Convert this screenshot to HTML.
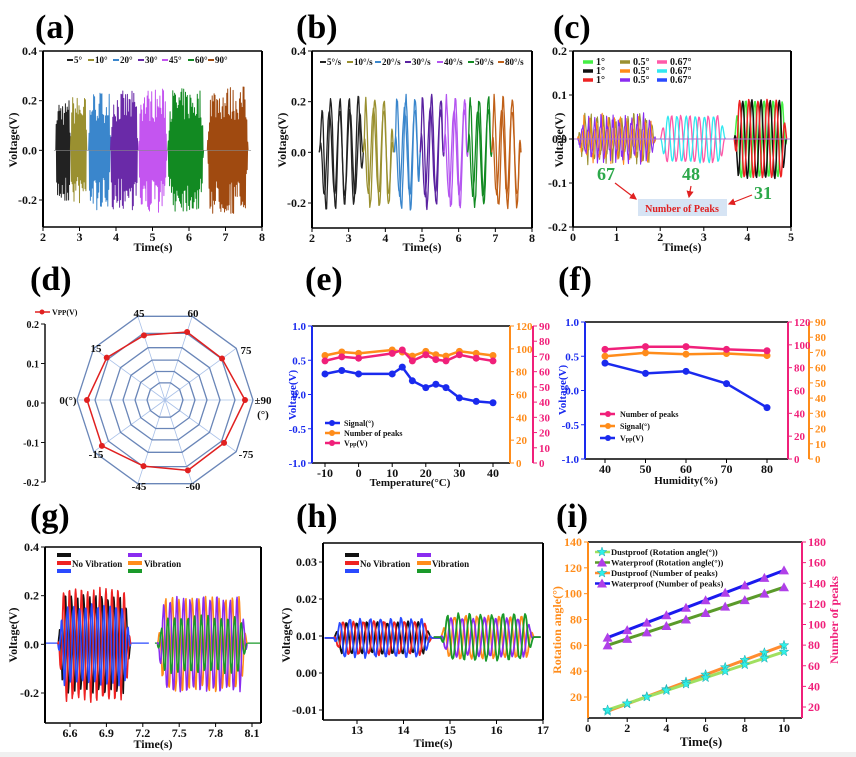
<!DOCTYPE html><html><head><meta charset="utf-8"><style>html,body{margin:0;padding:0;background:#fff}svg{display:block}text{font-family:"Liberation Serif",serif;font-weight:bold}</style></head><body>
<svg id="s" width="856" height="757" viewBox="0 0 856 757" xmlns="http://www.w3.org/2000/svg"></svg>
<script>
const S=document.getElementById('s');let h='';
let seed=7;function R(){seed=(seed*16807)%2147483647;return seed/2147483647;}
function L(a,b,c,d,col,w){h+=`<line x1="${a}" y1="${b}" x2="${c}" y2="${d}" stroke="${col||'#000'}" stroke-width="${w||1}"/>`}
function T(x,y,t,o){o=o||{};h+=`<text x="${x}" y="${y}" font-size="${o.s||11}" fill="${o.c||'#111'}" text-anchor="${o.a||'start'}" ${o.r?`transform="rotate(-90 ${x} ${y})"`:''}>${t}</text>`}
function P(pts,col,w,extra){h+=`<polyline points="${pts.map(p=>p[0].toFixed(1)+','+p[1].toFixed(1)).join(' ')}" fill="none" stroke="${col}" stroke-width="${w||1}" stroke-linejoin="round" ${extra||''}/>`}
function map(a,b,p,q){return v=>p+(v-a)*(q-p)/(b-a)}
function box(x0,y0,x1,y1,lc,rc,top){L(x0,y0,x1,y0,top||'#000',1.5);L(x0,y1,x1,y1,'#000',1.5);L(x0,y0,x0,y1,lc||'#000',2);L(x1,y0,x1,y1,rc||'#000',2)}
function yt(X,Y,vals,fmt,col,side,fs){vals.forEach(v=>{const y=Y(v);if(side>0){L(X,y,X+4,y,col);T(X+6,y+4,fmt(v),{c:col,s:fs||11})}else{L(X-4,y,X,y,col);T(X-6,y+4,fmt(v),{c:col,a:'end',s:fs||11})}})}
function xt(Xm,yb,vals,fmt){vals.forEach(v=>{const x=Xm(v);L(x,yb,x,yb+4);T(x,yb+14,fmt(v),{a:'middle',s:12})})}
function wave(X,Y,t0,t1,amp,per,ph,col,off,noise,w,tail){let pts=[];off=off||0;const n=Math.max(60,Math.round((t1-t0)/per*14));
 if(tail)pts.push([X(t0-tail),Y(off)]);
 for(let i=0;i<=n;i++){const t=t0+(t1-t0)*i/n;const u=i/n;const env=Math.min(1,u/0.08,(1-u)/0.08);let a=amp*env*(1-(noise||0)*R());pts.push([X(t),Y(off+a*Math.sin(2*Math.PI*(t-t0)/per+ph))]);}
 if(tail)pts.push([X(t1+tail),Y(off)]);P(pts,col,w||1);}
function leg(x,y,col,len,w){L(x,y,x+len,y,col,w||3)}
[['(a)',35,38],['(b)',296,38],['(c)',553,38],['(d)',30,290],['(e)',305,290],['(f)',558,290],['(g)',30,527],['(h)',296,527],['(i)',556,527]].forEach(a=>T(a[1],a[2],a[0],{s:34,c:'#000'}));
// ---- (a)
{let X=map(2,8,43,262),Y=map(0.4,-0.2,51,200);
 const segs=[[2.35,2.75,'#222',0.21],[2.75,3.2,'#9a9030',0.22],[3.25,3.85,'#3a86cc',0.24],[3.85,4.6,'#6a2aa8',0.24],[4.62,5.4,'#c455f0',0.25],[5.42,6.4,'#128a22',0.25],[6.5,7.62,'#a04a10',0.26]];
 segs.forEach(s=>{let pts=[];const n=Math.round((X(s[1])-X(s[0]))*2.2);for(let i=0;i<=n;i++){const t=s[0]+(s[1]-s[0])*i/n,u=i/n,env=Math.min(1,u/0.06,(1-u)/0.06);pts.push([X(t),Y((i%2?1:-1)*s[3]*env*(0.45+0.55*R()))]);}P(pts,s[2],1);});
 L(X(2.3),Y(0),X(7.7),Y(0),'#888',0.6);
 box(43,51,262,227);yt(43,Y,[0.4,0.2,0,-0.2],v=>v.toFixed(1),'#111',-1,12);xt(X,227,[2,3,4,5,6,7,8],v=>v);
 T(17,140,'Voltage(V)',{r:1,a:'middle',s:12});T(153,251,'Time(s)',{a:'middle',s:12});
 const lx=[67,88,113,138,162,188,208],ll=['5°','10°','20°','30°','45°','60°','90°'];lx.forEach((x,i)=>{leg(x,60,segs[i][2],6,2);T(x+7,63,ll[i],{s:9})});}
// ---- (b)
{let X=map(2,8,312,532),Y=map(0.4,-0.2,51,203);
 const segs=[[2.2,3.4,'#222'],[3.4,4.22,'#9a9030'],[4.25,4.95,'#3a86cc'],[4.95,5.6,'#5a22a0'],[5.6,6.25,'#b455f0'],[6.25,6.9,'#128a22'],[6.9,7.7,'#c06018']];
 segs.forEach((s,k)=>{for(let j=0;j<2;j++)wave(X,Y,s[0],s[1],0.23-0.05*j,0.25+j*0.03,j*1.7,s[2],0,0.15,1.3)});
 box(312,51,532,228);yt(312,Y,[0.4,0.2,0,-0.2],v=>v.toFixed(1),'#111',-1,12);xt(X,228,[2,3,4,5,6,7,8],v=>v);
 T(286,140,'Voltage(V)',{r:1,a:'middle',s:12});T(422,251,'Time(s)',{a:'middle',s:12});
 const lx=[320,347,375,405,437,468,498],ll=['5°/s','10°/s','20°/s','30°/s','40°/s','50°/s','80°/s'];lx.forEach((x,i)=>{leg(x,62,segs[i][2],6,2);T(x+7,65,ll[i],{s:9})});}
// ---- (c)
{let X=map(0,5,573,791),Y=map(0.2,-0.2,51,227);
 [['#9a9030',0],['#ff8a1a',1.3],['#8a2cf0',2.6]].forEach(c=>wave(X,Y,0.1,1.9,0.06,0.14,c[1],c[0],0,0.6,1.1));
 [['#ff5aa8',0],['#30e8f0',2.6]].forEach(c=>wave(X,Y,2.0,3.5,0.055,0.21,c[1],c[0],0,0.1,1.3));
 [['#44ee44',0],['#111',2.1],['#ee2222',4.2]].forEach(c=>wave(X,Y,3.7,4.9,0.09,0.21,c[1],c[0],0,0.05,1.5));
 L(X(0),Y(0),X(5),Y(0),'#b070d0',1);
 box(573,51,791,227);yt(573,Y,[0.2,0.1,0,-0.1,-0.2],v=>v.toFixed(1),'#111',-1,12);xt(X,227,[0,1,2,3,4,5],v=>v);
 T(563,140,'Voltage(V)',{r:1,a:'middle',s:12});T(682,251,'Time(s)',{a:'middle',s:12});
 const cols=[['#44ee44','#9a9030','#ff5aa8'],['#111','#ff8a1a','#30e8f0'],['#ee2222','#8a2cf0','#2a4aff']],lab=['1°','0.5°','0.67°'];
 for(let r=0;r<3;r++)for(let c=0;c<3;c++){const x=583+c*37,y=62+r*9;leg(x,y,cols[r][c],10,3.5);T(x+13,y+3,lab[c],{s:10})}
 T(606,180,'67',{s:18,c:'#2ca84a',a:'middle'});T(691,180,'48',{s:18,c:'#2ca84a',a:'middle'});T(763,199,'31',{s:18,c:'#2ca84a',a:'middle'});
 h+='<rect x="638" y="199" width="89" height="17" fill="#d6e4f4"/>';T(682,212,'Number of Peaks',{s:10,c:'#e02020',a:'middle'});
 h+='<defs><marker id="ar" markerWidth="6" markerHeight="6" refX="5" refY="3" orient="auto"><path d="M0,0L6,3L0,6z" fill="#e02020"/></marker></defs>';
 [[615,183,636,199],[691,186,689,197],[752,195,729,204]].forEach(a=>h+=`<line x1="${a[0]}" y1="${a[1]}" x2="${a[2]}" y2="${a[3]}" stroke="#e02020" stroke-width="1.2" marker-end="url(#ar)"/>`);}
// ---- (d)
{L(45,324,45,482,'#111',1.5);const Y=map(0.2,-0.2,324,482);yt(45,Y,[0.2,0.1,0,-0.1,-0.2],v=>v.toFixed(1),'#111',-1,10);
 leg(35,312,'#e02020',15,1.5);h+='<circle cx="42" cy="312" r="2.5" fill="#e02020"/>';T(52,315,'V<tspan font-size="7">PP</tspan>(V)',{s:8});
 const cx=165,cy=400,ang=k=>(180-36*k)*Math.PI/180,pt=(k,r)=>[cx+r*Math.cos(ang(k)),cy-r*Math.sin(ang(k))];
 for(let k=0;k<10;k++)L(cx,cy,...pt(k,88),'#a8c0e8',0.8);
 [88,70,55,42,30,18].forEach(r=>{let p=[];for(let k=0;k<=10;k++)p.push(pt(k%10,r));P(p,'#6a86b8',1.3)});
 const rv=[78,72,68,71.5,70.5,80,73,74,69.5,78];let p=[];for(let k=0;k<=10;k++)p.push(pt(k%10,rv[k%10]));P(p,'#e02020',1.5);
 rv.forEach((r,k)=>{const q=pt(k,r);h+=`<circle cx="${q[0]}" cy="${q[1]}" r="3" fill="#e02020"/>`});
 const labs=['0(°)','15','45','60','75','±90','-75','-60','-45','-15'];
 const lp=[[68,404],[96,352],[139,317],[193,317],[246,354],[263,404],[246,458],[193,490],[139,490],[96,458]];
 labs.forEach((t,k)=>T(lp[k][0],lp[k][1],t,{a:'middle',s:11}));T(263,418,'(°)',{a:'middle',s:11});}
// ---- (e)
{let X=map(-10,40,325,493),Y=map(1,-1,326,463);const Yo=map(0,120,463,326),Yp=map(0,90,463,326);
 const xs=[-10,-5,0,10,13,16,20,23,26,30,35,40];
 const d=[[[0.57,0.62,0.6,0.65,0.62,0.56,0.63,0.58,0.56,0.63,0.6,0.57],'#ff8c1a'],[[0.49,0.55,0.53,0.6,0.65,0.49,0.58,0.51,0.49,0.58,0.53,0.49],'#f0207a'],[[0.3,0.35,0.3,0.3,0.4,0.2,0.1,0.15,0.1,-0.05,-0.1,-0.12],'#1a2aee']];
 d.forEach(s=>{const pts=xs.map((x,i)=>[X(x),Y(s[0][i])]);P(pts,s[1],2.5);pts.forEach(q=>h+=`<circle cx="${q[0]}" cy="${q[1]}" r="3.5" fill="${s[1]}"/>`)});
 box(312,326,510,463,'#1a2aee','#ff8c1a');L(533,326,533,463,'#f0207a',2);
 yt(312,Y,[1,0.5,0,-0.5,-1],v=>v.toFixed(1),'#1a2aee',-1,11);yt(510,Yo,[0,20,40,60,80,100,120],v=>v,'#ff8c1a',1,11);yt(533,Yp,[0,10,20,30,40,50,60,70,80,90],v=>v,'#f0207a',1,11);
 xt(X,463,[-10,0,10,20,30,40],v=>v);T(296,395,'Voltage(V)',{r:1,a:'middle',s:11,c:'#1a2aee'});T(410,486,'Temperature(°C)',{a:'middle',s:11});
 [['#1a2aee','Signal(°)'],['#ff8c1a','Number of peaks'],['#f0207a','V<tspan font-size="6">pp</tspan>(V)']].forEach((l,i)=>{leg(325,423+i*10,l[0],15,2.5);h+=`<circle cx="332" cy="${423+i*10}" r="3" fill="${l[0]}"/>`;T(344,426+i*10,l[1],{s:8})});}
// ---- (f)
{let X=map(40,80,605,767),Y=map(1,-1,322,459);
 const xs=[40,50,60,70,80];
 const d=[[[0.5,0.55,0.53,0.54,0.51],'#ff8c1a'],[[0.6,0.64,0.64,0.6,0.58],'#f0207a'],[[0.4,0.25,0.28,0.1,-0.25],'#1a2aee']];
 d.forEach(s=>{const pts=xs.map((x,i)=>[X(x),Y(s[0][i])]);P(pts,s[1],2.5);pts.forEach(q=>h+=`<circle cx="${q[0]}" cy="${q[1]}" r="3.5" fill="${s[1]}"/>`)});
 box(585,322,788,459,'#1a2aee','#f0207a');L(809,322,809,459,'#ff8c1a',2);
 yt(585,Y,[1,0.5,0,-0.5,-1],v=>v.toFixed(1),'#1a2aee',-1,11);yt(788,map(0,120,459,322),[0,20,40,60,80,100,120],v=>v,'#f0207a',1,11);yt(809,map(0,90,459,322),[0,10,20,30,40,50,60,70,80,90],v=>v,'#ff8c1a',1,11);
 xt(X,459,[40,50,60,70,80],v=>v);T(566,390,'Voltage(V)',{r:1,a:'middle',s:11,c:'#1a2aee'});T(686,484,'Humidity(%)',{a:'middle',s:11});
 [['#f0207a','Number of peaks'],['#ff8c1a','Signal(°)'],['#1a2aee','V<tspan font-size="6">pp</tspan>(V)']].forEach((l,i)=>{leg(600,414+i*12,l[0],15,2.5);h+=`<circle cx="608" cy="${414+i*12}" r="3" fill="${l[0]}"/>`;T(620,417+i*12,l[1],{s:8})});}
// ---- (g)
{let X=map(6.6,8.1,70,252),Y=map(0.4,-0.2,547,693);
 L(45,Y(0.005),X(7.25),Y(0.005),'#2a4aff',1.2);L(X(7.3),Y(0.005),261,Y(0.005),'#1a9a2a',1.2);
 [['#111',0.21,0],['#ee2222',0.24,2.1],['#2a4aff',0.17,4.2]].forEach(c=>wave(X,Y,6.5,7.1,c[1],0.05,c[2],c[0],0,0.15,1.5));
 [['#ff8c1a',0.2,0],['#8a2cf0',0.2,2.1],['#1a9a2a',0.12,4.2]].forEach(c=>wave(X,Y,7.32,8.06,c[1],0.055,c[2],c[0],0,0.15,1.5));
 box(45,547,261,723);yt(45,Y,[0.4,0.2,0,-0.2],v=>v.toFixed(1),'#111',-1,12);xt(X,723,[6.6,6.9,7.2,7.5,7.8,8.1],v=>v.toFixed(1));
 T(17,635,'Voltage(V)',{r:1,a:'middle',s:12});T(153,748,'Time(s)',{a:'middle',s:12});
 ['#111','#ee2222','#2a4aff'].forEach((c,i)=>leg(57,555+i*8,c,14,4));['#8a2cf0','#ff8c1a','#1a9a2a'].forEach((c,i)=>leg(128,555+i*8,c,14,4));
 T(72,567,'No Vibration',{s:9});T(144,567,'Vibration',{s:9});}
// ---- (h)
{let X=map(13,17,357,543),Y=map(0.03,-0.01,562,710);
 [['#111',0.0045,0],['#ee2222',0.0048,2.1],['#2a4aff',0.0055,4.2]].forEach(c=>wave(X,Y,12.5,14.6,c[1],0.22,c[2],c[0],0.0095,0.15,1.8,0.2));
 [['#ff8c1a',0.006,0],['#8a2cf0',0.0055,2.1],['#1a9a2a',0.0065,4.2]].forEach(c=>wave(X,Y,14.8,16.8,c[1],0.24,c[2],c[0],0.0097,0.15,1.8,0.15));
 box(323,543,543,720);yt(323,Y,[0.03,0.02,0.01,0,-0.01],v=>v.toFixed(2),'#111',-1,12);xt(X,720,[13,14,15,16,17],v=>v);
 T(290,635,'Voltage(V)',{r:1,a:'middle',s:12});T(433,747,'Time(s)',{a:'middle',s:12});
 ['#111','#ee2222','#2a4aff'].forEach((c,i)=>leg(345,555+i*8,c,14,4));['#8a2cf0','#ff8c1a','#1a9a2a'].forEach((c,i)=>leg(417,555+i*8,c,14,4));
 T(360,567,'No Vibration',{s:9});T(432,567,'Vibration',{s:9});}
// ---- (i)
{let X=map(0,10,588,784),Y=map(140,20,542,697),Yr=map(180,20,542,707);
 const star=(x,y)=>{let p='';for(let k=0;k<10;k++){const r=k%2?2:5,a=-Math.PI/2+k*Math.PI/5;p+=(x+r*Math.cos(a)).toFixed(1)+','+(y+r*Math.sin(a)).toFixed(1)+' '}h+=`<polygon points="${p}" fill="#30f0e8" stroke="#20a8b0" stroke-width="0.5"/>`};
 const tri=(x,y)=>h+=`<polygon points="${x},${y-5} ${x-5},${y+4} ${x+5},${y+4}" fill="#b040e8"/>`;
 const lines=[[66,118,'#1a1aee',tri],[60,105,'#5a9a2a',tri],[9,60,'#ff8c30',star],[10,55,'#a0e060',star]];
 lines.forEach(l=>{P([[X(1),Y(l[0])],[X(10),Y(l[1])]],l[2],3);for(let t=1;t<=10;t++)l[3](X(t),Y(l[0]+(l[1]-l[0])*(t-1)/9))});
 box(588,542,802,718,'#ff8c1a','#f0207a');
 yt(588,Y,[20,40,60,80,100,120,140],v=>v,'#ff8c1a',-1,12);yt(802,Yr,[20,40,60,80,100,120,140,160,180],v=>v,'#f0207a',1,12);
 xt(X,718,[0,2,4,6,8,10],v=>v);T(701,746,'Time(s)',{a:'middle',s:13});
 T(561,630,'Rotation angle(°)',{r:1,a:'middle',s:12,c:'#ff8c1a'});T(838,620,'Number of peaks',{r:1,a:'middle',s:12,c:'#f0207a'});
 [['#a0e060',star,'Dustproof (Rotation angle(°))'],['#5a9a2a',tri,'Waterproof (Rotation angle(°))'],['#ff8c30',star,'Dustproof (Number of peaks)'],['#1a1aee',tri,'Waterproof (Number of peaks)']].forEach((l,i)=>{const y=552+i*10.5;leg(595,y,l[0],15,2.5);l[1](602,y);T(611,y+3,l[2],{s:8.5})});}
h+='<rect x="0" y="752" width="856" height="5" fill="#f0f0f0"/>';
S.innerHTML=h;
</script></body></html>
